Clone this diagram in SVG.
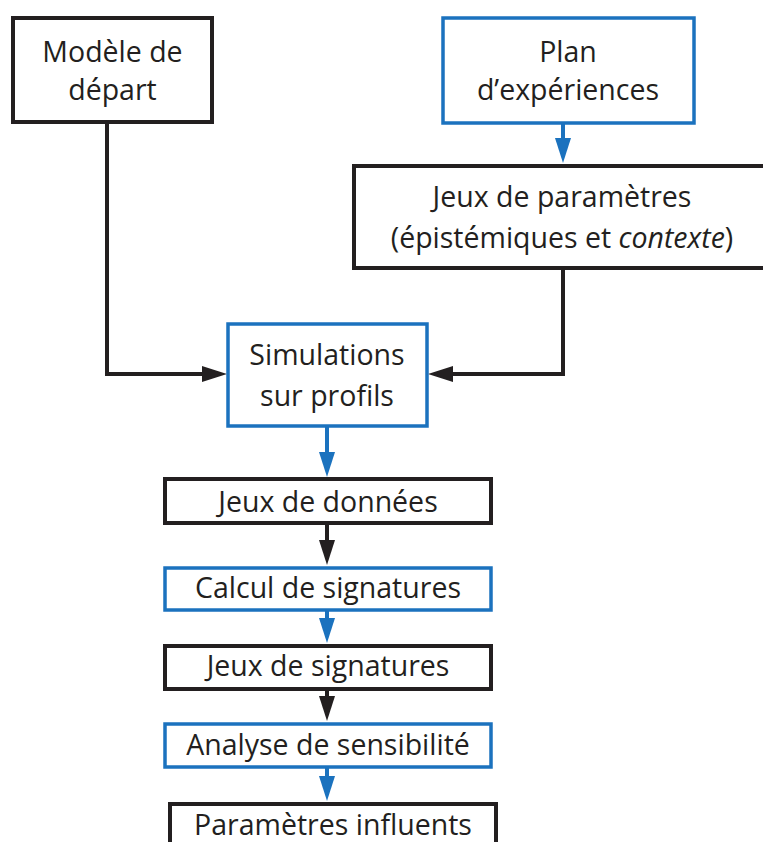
<svg xmlns="http://www.w3.org/2000/svg" width="763" height="842" viewBox="0 0 763 842">
<style>
  .box { fill: #ffffff; stroke: #231f20; stroke-width: 4; }
  .bbox { fill: #ffffff; stroke: #1b72be; stroke-width: 3.5; }
  .lbl { font-family: "Open Sans", "Liberation Sans", sans-serif; font-size: 28.5px; fill: #231f20; text-anchor: middle; }
  .ck { fill: none; stroke: #231f20; stroke-width: 4; }
  .cb { fill: none; stroke: #1b72be; stroke-width: 4; }
</style>
<defs>
  <marker id="ak" markerUnits="userSpaceOnUse" markerWidth="26" markerHeight="18" refX="16" refY="8" orient="auto">
    <path d="M0,0 L25,8 L0,16 z" fill="#231f20"/>
  </marker>
  <marker id="ab" markerUnits="userSpaceOnUse" markerWidth="26" markerHeight="18" refX="16" refY="8" orient="auto">
    <path d="M0,0 L25,8 L0,16 z" fill="#1b72be"/>
  </marker>
</defs>
<rect width="763" height="842" fill="#ffffff"/>
<g id="connectors">
  <path class="ck" d="M107,123 V374 H218" marker-end="url(#ak)"/>
  <path class="ck" d="M563,268 V374 H437" marker-end="url(#ak)"/>
  <path class="cb" d="M563,124 V154" marker-end="url(#ab)"/>
  <path class="cb" d="M327,426 V468" marker-end="url(#ab)"/>
  <path class="ck" d="M327,523 V556" marker-end="url(#ak)"/>
  <path class="cb" d="M327,610 V634" marker-end="url(#ab)"/>
  <path class="ck" d="M327,689 V712" marker-end="url(#ak)"/>
  <path class="cb" d="M327,767 V792" marker-end="url(#ab)"/>
</g>
<g id="modele">
  <rect class="box" x="13" y="18" width="199" height="104"/>
  <text class="lbl" x="112.5" y="62">Modèle de</text>
  <text class="lbl" x="112.5" y="100">départ</text>
</g>
<g id="plan">
  <rect class="bbox" x="443" y="18" width="251" height="105"/>
  <text class="lbl" x="568" y="62">Plan</text>
  <text class="lbl" x="568" y="100">d’expériences</text>
</g>
<g id="jeux-parametres">
  <rect class="box" x="354" y="166" width="420" height="102"/>
  <text class="lbl" x="562" y="207">Jeux de paramètres</text>
  <text class="lbl" x="562" y="248">(épistémiques et <tspan font-style="italic">contexte</tspan>)</text>
</g>
<g id="simulations">
  <rect class="bbox" x="228" y="324" width="199" height="102"/>
  <text class="lbl" x="327" y="365">Simulations</text>
  <text class="lbl" x="327" y="406">sur profils</text>
</g>
<g id="jeux-donnees">
  <rect class="box" x="165" y="479" width="326" height="44"/>
  <text class="lbl" x="328" y="512">Jeux de données</text>
</g>
<g id="calcul">
  <rect class="bbox" x="165" y="568" width="326" height="42"/>
  <text class="lbl" x="328" y="598">Calcul de signatures</text>
</g>
<g id="jeux-signatures">
  <rect class="box" x="165" y="646" width="326" height="43"/>
  <text class="lbl" x="328" y="676">Jeux de signatures</text>
</g>
<g id="analyse">
  <rect class="bbox" x="165" y="724" width="326" height="43"/>
  <text class="lbl" x="328" y="755">Analyse de sensibilité</text>
</g>
<g id="parametres-influents">
  <rect class="box" x="170" y="804" width="326" height="60"/>
  <text class="lbl" x="333" y="835">Paramètres influents</text>
</g>
</svg>
